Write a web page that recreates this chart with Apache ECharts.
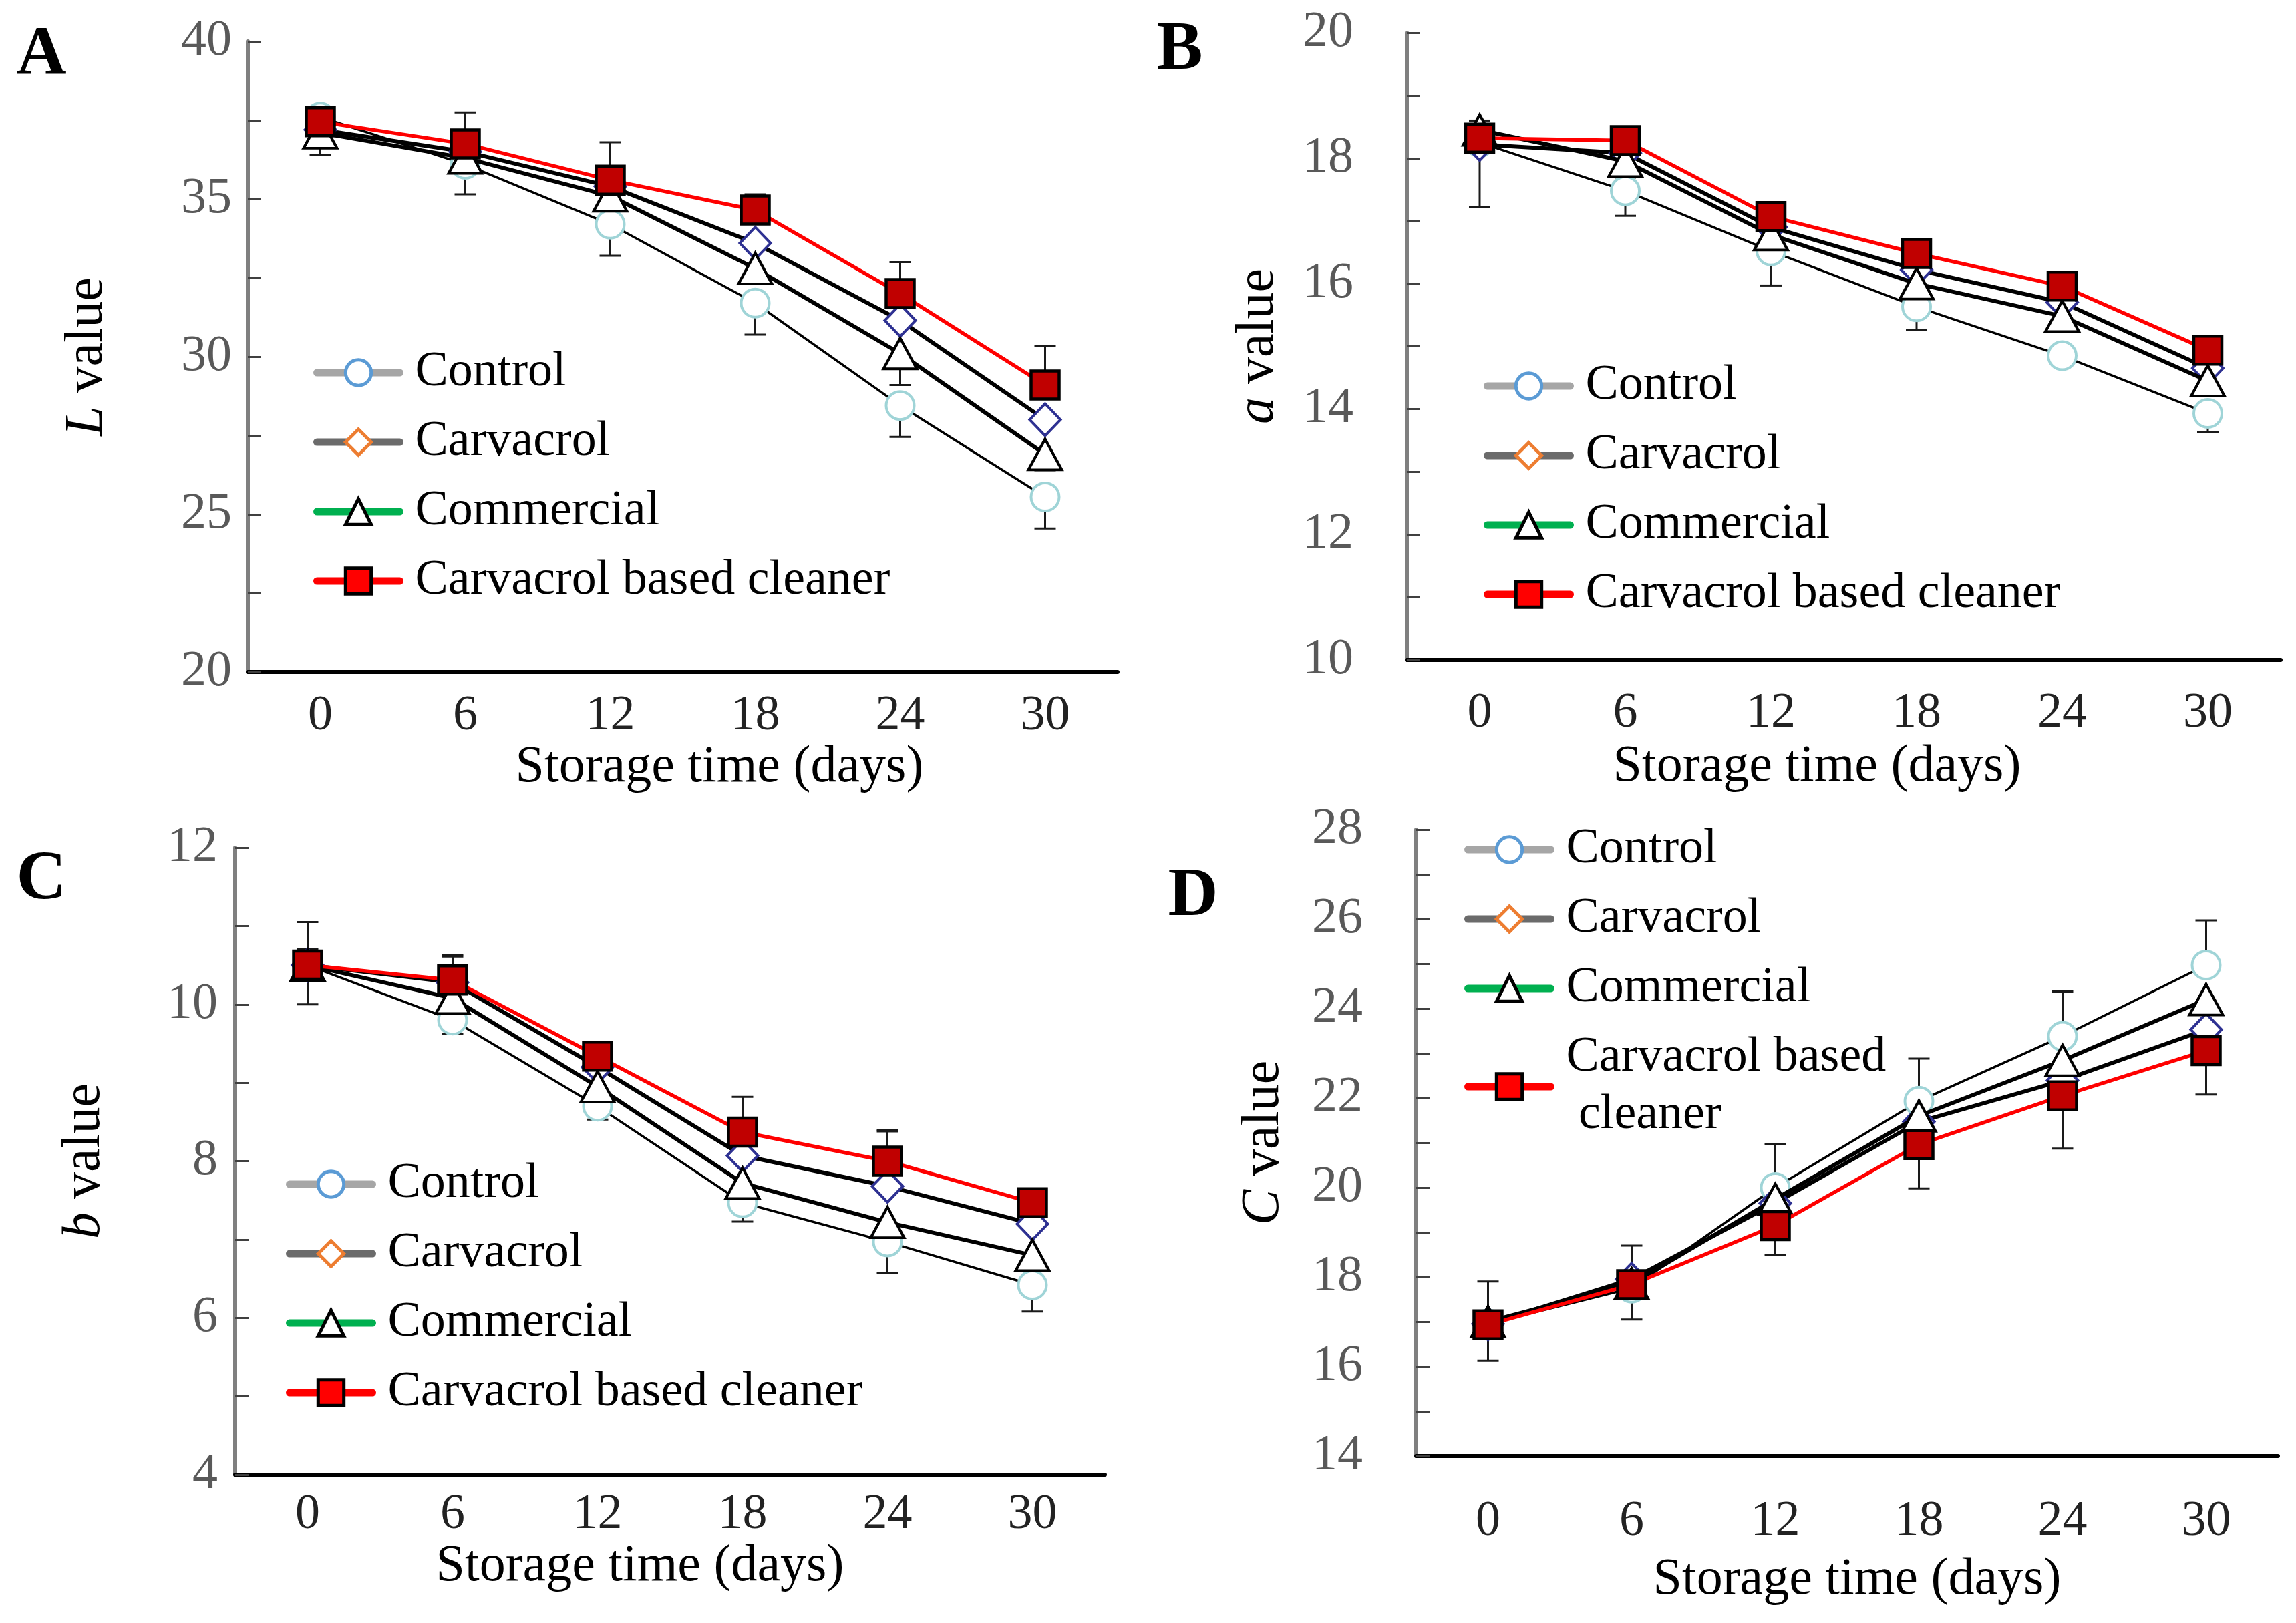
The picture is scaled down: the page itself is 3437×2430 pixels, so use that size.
<!DOCTYPE html>
<html><head><meta charset="utf-8">
<script src="https://cdn.jsdelivr.net/npm/echarts@6/dist/echarts.min.js"></script>
<style>html,body{margin:0;padding:0;background:#fff}#c{width:3437px;height:2430px}</style>
</head><body><div id="c"></div>
<script>
// ---------- data ----------
const days = ['0', '6', '12', '18', '24', '30'];
const seriesNames = ['Control', 'Carvacrol', 'Commercial', 'Carvacrol based cleaner'];

// Panel A: L value
const L_control  = [37.6, 36.1, 34.2, 31.7, 28.45, 25.55];
const L_carv     = [37.2, 36.5, 35.4, 33.6, 31.15, 28.0];
const L_comm     = [37.1, 36.3, 35.1, 32.8, 30.1, 26.9];
const L_clean    = [37.45, 36.75, 35.6, 34.65, 32.0, 29.1];
const L_ctrlLo   = [0, 0.95, 1.0, 1.0, 1.0, 1.0];
const L_commLo   = [0.7, 0, 0, 0, 1.0, 0.5];
const L_cleanHi  = [0, 1.0, 1.2, 0.5, 1.0, 1.25];

// Panel B: a value
const a_control  = [18.25, 17.48, 16.52, 15.63, 14.85, 13.93];
const a_carv     = [18.22, 18.08, 16.9, 16.22, 15.7, 14.65];
const a_comm     = [18.45, 17.95, 16.78, 16.0, 15.48, 14.45];
const a_clean    = [18.32, 18.28, 17.07, 16.48, 15.96, 14.94];
const a_ctrlLo   = [0, 0.4, 0.55, 0.37, 0, 0.3];
const a_carvLo   = [1.0, 0, 0, 0, 0, 0];
const a_commLo   = [0, 0.26, 0, 0, 0.25, 0];
const a_commHi   = [0.15, 0, 0, 0, 0, 0];

// Panel C: b value
const b_control  = [10.5, 9.8, 8.7, 7.47, 6.97, 6.42];
const b_carv     = [10.5, 10.28, 9.2, 8.07, 7.68, 7.2];
const b_comm     = [10.5, 10.08, 8.95, 7.72, 7.22, 6.8];
const b_clean    = [10.5, 10.31, 9.34, 8.37, 8.0, 7.47];
const b_ctrlLo   = [0.5, 0.18, 0.17, 0.24, 0.4, 0.34];
const b_carvHi   = [0.2, 0.35, 0, 0, 0.7, 0];
const b_cleanHi  = [0.55, 0.3, 0, 0.45, 0.4, 0];

// Panel D: C value
const C_control  = [16.95, 17.75, 20.0, 21.93, 23.38, 24.97];
const C_carv     = [16.95, 17.95, 19.65, 21.47, 22.39, 23.53];
const C_comm     = [17.0, 17.85, 19.74, 21.6, 22.84, 24.2];
const C_clean    = [16.93, 17.83, 19.15, 20.96, 22.05, 23.06];
const C_ctrlHi   = [0.95, 0.95, 0.97, 0.95, 1.0, 1.0];
const C_cleanLo  = [0.8, 0.78, 0.65, 0.98, 1.18, 0.98];

// ---------- styles ----------
const FONT = '"Liberation Serif", "Times New Roman", serif';
const zero = [0, 0, 0, 0, 0, 0];

const markerStyles = [
  { symbol: 'circle', symbolSize: 42, itemStyle: { color: '#fff', borderColor: '#9fd4d7', borderWidth: 4 }, lineStyle: { color: '#000', width: 3.5 } },
  { symbol: 'diamond', symbolSize: [46, 48], itemStyle: { color: '#fff', borderColor: '#2e3192', borderWidth: 4 }, lineStyle: { color: '#000', width: 6 } },
  { symbol: 'triangle', symbolSize: [50, 46], itemStyle: { color: '#fff', borderColor: '#000', borderWidth: 4 }, lineStyle: { color: '#000', width: 6 } },
  { symbol: 'rect', symbolSize: 42, itemStyle: { color: '#c00000', borderColor: '#000', borderWidth: 4.5 }, lineStyle: { color: '#ff0000', width: 5.5 } }
];

const legendItems = [
  { name: 'Control', itemStyle: { color: '#fff', borderColor: '#5b9bd5', borderWidth: 5 }, lineStyle: { color: '#a6a6a6', width: 11, cap: 'round' } },
  { name: 'Carvacrol', itemStyle: { color: '#fff', borderColor: '#ed7d31', borderWidth: 5 }, lineStyle: { color: '#6b6b6b', width: 11, cap: 'round' } },
  { name: 'Commercial', itemStyle: { color: '#fff', borderColor: '#000', borderWidth: 5 }, lineStyle: { color: '#00b050', width: 11, cap: 'round' } },
  { name: 'Carvacrol based cleaner', itemStyle: { color: '#ff0000', borderColor: '#000', borderWidth: 5 }, lineStyle: { color: '#ff0000', width: 11, cap: 'round' } }
];

const panels = [
  { grid: { left: 371, top: 62, width: 1302, height: 944 }, min: 20, max: 40, interval: 5, minorSplit: 2,
    name: '{i|L} value', nameGap: 200, labelMargin: 24, xLabelMargin: 30, xNameGap: 96, xNamePad: [0, 0, 0, 110],
    data: [L_control, L_carv, L_comm, L_clean],
    lo: [L_ctrlLo, zero, L_commLo, zero], hi: [zero, zero, zero, L_cleanHi],
    legend: { left: 464, top: 510 }, letter: ['A', 62, 84] },
  { grid: { left: 2106, top: 49, width: 1308, height: 939 }, min: 10, max: 20, interval: 2, minorSplit: 2,
    name: '{i|a} value', nameGap: 182, labelMargin: 80, xLabelMargin: 44, xNameGap: 122, xNamePad: [0, 80, 0, 0],
    data: [a_control, a_carv, a_comm, a_clean],
    lo: [a_ctrlLo, a_carvLo, a_commLo, zero], hi: [zero, zero, a_commHi, zero],
    legend: { left: 2216, top: 530 }, letter: ['B', 1766, 76] },
  { grid: { left: 352, top: 1269, width: 1302, height: 939 }, min: 4, max: 12, interval: 2, minorSplit: 2,
    name: '{i|b} value', nameGap: 185, labelMargin: 26, xLabelMargin: 24, xNameGap: 90, xNamePad: [0, 90, 0, 0],
    data: [b_control, b_carv, b_comm, b_clean],
    lo: [b_ctrlLo, zero, zero, zero], hi: [zero, b_carvHi, zero, b_cleanHi],
    legend: { left: 423, top: 1725 }, letter: ['C', 62, 1318] },
  { grid: { left: 2120, top: 1242, width: 1290, height: 938 }, min: 14, max: 28, interval: 2, minorSplit: 2,
    name: '{i|C} value', nameGap: 188, labelMargin: 80, xLabelMargin: 62, xNameGap: 147, xNamePad: [0, 0, 0, 30],
    data: [C_control, C_carv, C_comm, C_clean],
    lo: [zero, zero, zero, C_cleanLo], hi: [C_ctrlHi, zero, zero, zero],
    legend: { left: 2187, top: 1224 }, letter: ['D', 1786, 1343] }
];

function errRender(params, api) {
  const i = api.value(0), v = api.value(1), lo = api.value(2), hi = api.value(3);
  const c = api.coord([i, v]);
  const t = api.coord([i, v + hi]);
  const b = api.coord([i, v - lo]);
  const cw = 16;
  const st = { stroke: '#1a1a1a', lineWidth: 3 };
  const ch = [{ type: 'line', shape: { x1: c[0], y1: t[1], x2: c[0], y2: b[1] }, style: st }];
  if (hi > 0) ch.push({ type: 'line', shape: { x1: c[0] - cw, y1: t[1], x2: c[0] + cw, y2: t[1] }, style: st });
  if (lo > 0) ch.push({ type: 'line', shape: { x1: c[0] - cw, y1: b[1], x2: c[0] + cw, y2: b[1] }, style: st });
  return { type: 'group', children: ch };
}

const grids = [], xAxes = [], yAxes = [], series = [], legends = [], graphics = [];

panels.forEach((p, pi) => {
  grids.push(Object.assign({ containLabel: false }, p.grid));
  xAxes.push({
    gridIndex: pi, type: 'category', data: days, boundaryGap: true,
    axisLine: { lineStyle: { color: '#000', width: 6 } },
    axisTick: { alignWithLabel: true, inside: true, length: 16, lineStyle: { color: '#000', width: 4 } },
    axisLabel: { fontFamily: FONT, fontSize: 74, color: '#222', margin: p.xLabelMargin },
    splitLine: { show: false },
    name: 'Storage time (days)', nameLocation: 'middle', nameGap: p.xNameGap,
    nameTextStyle: { fontFamily: FONT, fontSize: 78, color: '#000', padding: p.xNamePad }
  });
  yAxes.push({
    gridIndex: pi, type: 'value', min: p.min, max: p.max, interval: p.interval,
    axisLine: { show: true, lineStyle: { color: '#7f7f7f', width: 6 } },
    axisTick: { show: true, inside: true, length: 20, lineStyle: { color: '#404040', width: 3 } },
    minorTick: { show: true, splitNumber: p.minorSplit, length: 20, lineStyle: { color: '#404040', width: 3 } },
    splitLine: { show: false }, minorSplitLine: { show: false },
    axisLabel: { fontFamily: FONT, fontSize: 76, color: '#595959', margin: p.labelMargin },
    name: p.name, nameLocation: 'middle', nameGap: p.nameGap,
    nameTextStyle: { fontFamily: FONT, fontSize: 80, color: '#000',
      rich: { i: { fontFamily: FONT, fontSize: 80, fontStyle: 'italic', color: '#000' } } }
  });
  // error bars first (drawn below markers)
  for (let s = 0; s < 4; s++) {
    const d = p.data[s].map((v, k) => [k, v, p.lo[s][k], p.hi[s][k]]);
    series.push({
      type: 'custom', name: seriesNames[s] + ' SD', xAxisIndex: pi, yAxisIndex: pi,
      renderItem: errRender, data: d, encode: { x: 0, y: 1 }, silent: true, z: 1
    });
  }
  for (let s = 0; s < 4; s++) {
    const m = markerStyles[s];
    series.push({
      type: 'line', name: seriesNames[s], xAxisIndex: pi, yAxisIndex: pi,
      data: p.data[s], symbol: m.symbol, symbolSize: m.symbolSize,
      itemStyle: m.itemStyle, lineStyle: m.lineStyle, z: 2 + s,
      emphasis: { disabled: true }, silent: true
    });
  }
  legends.push({
    orient: 'vertical', left: p.legend.left, top: p.legend.top,
    itemWidth: 124, itemHeight: 48, itemGap: 18, selectedMode: false,
    textStyle: { fontFamily: FONT, fontSize: 74, color: '#000', lineHeight: 86, padding: [0, 0, 0, 18] },
    formatter: pi === 3 ? (n => n === 'Carvacrol based cleaner' ? 'Carvacrol based\n cleaner' : n) : (n => n),
    data: legendItems
  });
  graphics.push({
    type: 'text', x: p.letter[1], y: p.letter[2],
    style: { text: p.letter[0], font: 'bold 104px ' + FONT, fill: '#000', textAlign: 'center', textVerticalAlign: 'middle' }
  });
});

const chart = echarts.init(document.getElementById('c'), null, { renderer: 'canvas' });
chart.setOption({
  animation: false,
  backgroundColor: '#fff',
  grid: grids, xAxis: xAxes, yAxis: yAxes, series: series, legend: legends, graphic: graphics
});
</script>
</body></html>
